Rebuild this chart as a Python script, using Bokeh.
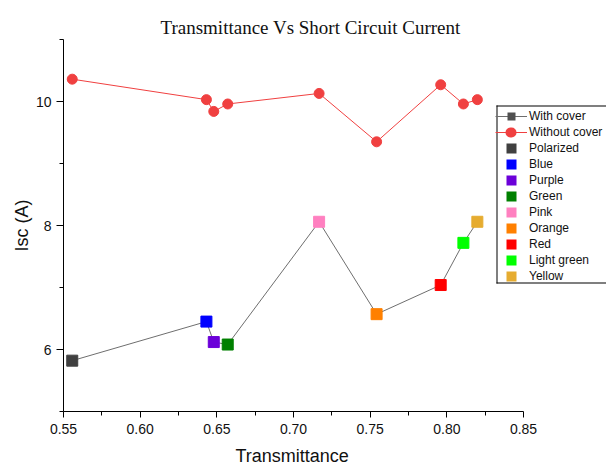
from bokeh.plotting import figure
from bokeh.models import Range1d, FixedTicker, Legend, LegendItem, Title, PrintfTickFormatter, BoxAnnotation
from bokeh.embed import file_html
from bokeh.resources import INLINE

# ---- data ----
transmittance = [0.5557, 0.6432, 0.6480, 0.6571, 0.7167, 0.7542, 0.7960, 0.8108, 0.8199]
isc_with_cover = [5.82, 6.45, 6.12, 6.08, 8.06, 6.57, 7.04, 7.72, 8.06]
isc_without_cover = [10.36, 10.03, 9.84, 9.96, 10.13, 9.35, 10.27, 9.96, 10.03]
filters = ["Polarized", "Blue", "Purple", "Green", "Pink", "Orange", "Red", "Light green", "Yellow"]
filter_colors = ["#404040", "#0000FF", "#6B00D9", "#008000", "#FF80C0", "#FF8000", "#FF0000", "#00FF00", "#E6AC30"]
x_ticks = [0.55, 0.60, 0.65, 0.70, 0.75, 0.80, 0.85]
x_minor = [0.575, 0.625, 0.675, 0.725, 0.775, 0.825]
y_ticks = [6, 8, 10]
y_minor = [5, 7, 9, 11]

X0, X1 = 0.55, 0.85
AXIS_PX = 460           # pixel length of the drawn x axis
FRAME_W = 543           # frame runs to the right edge so the legend is cut like the original
x_end = X0 + (X1 - X0) * FRAME_W / AXIS_PX

p = figure(frame_width=FRAME_W, frame_height=372,
           min_border_left=63, min_border_right=0, min_border_top=39, min_border_bottom=57,
           x_range=Range1d(X0, x_end), y_range=Range1d(5, 11),
           output_backend="svg", toolbar_location=None)
p.outline_line_color = None
p.xgrid.visible = False
p.ygrid.visible = False
p.background_fill_color = "white"
p.border_fill_color = "white"

for ax in (p.xaxis[0], p.yaxis[0]):
    ax.axis_line_color = "black"
    ax.axis_line_width = 1
    ax.major_tick_line_color = "black"
    ax.minor_tick_line_color = "black"
    ax.major_tick_in = 0
    ax.minor_tick_in = 0
    ax.major_label_text_font = "Liberation Sans"
    ax.major_label_text_font_size = "14px"
    ax.major_label_text_color = "#111111"
    ax.axis_label_text_font = "Liberation Sans"
    ax.axis_label_text_font_size = "18px"
    ax.axis_label_text_font_style = "normal"
    ax.axis_label_text_color = "#111111"

p.xaxis.major_tick_out = 6
p.xaxis.minor_tick_out = 4
p.yaxis.major_tick_out = 7
p.yaxis.minor_tick_out = 4
p.xaxis.bounds = (X0, X1)
p.xaxis.ticker = FixedTicker(ticks=x_ticks, minor_ticks=x_minor)
p.yaxis.ticker = FixedTicker(ticks=y_ticks, minor_ticks=y_minor)
p.xaxis.formatter = PrintfTickFormatter(format="%.2f")
p.yaxis.axis_label = "Isc (A)"
p.xaxis.major_label_standoff = 6
p.yaxis.major_label_standoff = 5
p.yaxis.axis_label_standoff = 1

# x-axis title, centred under the drawn axis (not under the wider frame)
x_title = Title(text="Transmittance", align="left", offset=172,
                text_font="Liberation Sans", text_font_size="18px", text_font_style="normal",
                text_color="#111111", standoff=15)
p.add_layout(x_title, "below")

line_w = p.line(transmittance, isc_with_cover, line_color="#6E6E6E", line_width=1)
line_wo = p.line(transmittance, isc_without_cover, line_color="#F04040", line_width=1)
circ_wo = p.scatter(transmittance, isc_without_cover, marker="circle", size=10,
                    fill_color="#F04040", line_color="#F04040")
sq = []
for i in range(len(filters)):
    r = p.scatter([transmittance[i]], [isc_with_cover[i]], marker="square", size=11,
                  fill_color=filter_colors[i], line_color=filter_colors[i])
    sq.append(r)

# legend swatches: single-point lines (draw nothing in the plot), used for their legend glyph
def swatch_square(i, color, side):
    gap = (32 - side) // 2
    return p.line([transmittance[i]], [isc_with_cover[i]], line_color=color, line_width=side,
                  line_cap="butt", line_dash=f"0 {gap} {side} 100")

def swatch_circle(i, color, d):
    return p.line([transmittance[i]], [isc_without_cover[i]], line_color=color, line_width=d,
                  line_cap="round", line_dash="1 100", line_dash_offset=-15)

items = [LegendItem(label="With cover", renderers=[line_w, swatch_square(0, "#505050", 8)]),
         LegendItem(label="Without cover", renderers=[line_wo, swatch_circle(0, "#F04040", 10)])]
for i, name in enumerate(filters):
    items.append(LegendItem(label=name, renderers=[swatch_square(i, filter_colors[i], 10)]))

# legend frame: white panel plus left/top/bottom edges, open on the right (cut by window edge)
def screen_box(left, right, bottom, top, color):
    b = BoxAnnotation(left=left, right=right, bottom=bottom, top=top,
                      left_units="screen", right_units="screen",
                      bottom_units="screen", top_units="screen",
                      fill_color=color, fill_alpha=1.0, line_color=None)
    p.add_layout(b)

BX0, BX1, BY0, BY1 = 433, 700, 128, 306
screen_box(BX0, BX1, BY0, BY1, "white")
screen_box(BX0, BX1, BY1 - 1, BY1, "black")      # top edge
screen_box(BX0, BX1, BY0, BY0 + 1, "black")      # bottom edge
screen_box(BX0, BX0 + 1, BY0, BY1, "black")      # left edge

legend = Legend(items=items, location=(432, 127), orientation="vertical",
                glyph_width=32, glyph_height=16, label_height=16, spacing=0,
                padding=2, margin=0, label_standoff=2,
                label_text_font="Liberation Sans", label_text_font_size="12px",
                label_text_color="#111111",
                border_line_color=None, background_fill_alpha=0.0)
p.add_layout(legend, "center")

title = Title(text="Transmittance Vs Short Circuit Current", align="left", offset=97,
              text_font="Liberation Serif", text_font_size="19px", text_font_style="normal",
              text_color="#111111", standoff=3)
p.add_layout(title, "above")

open("out.html", "w").write(file_html(p, INLINE))
